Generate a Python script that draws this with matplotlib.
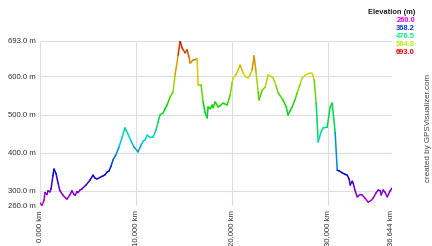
import numpy as np
import matplotlib
matplotlib.use('Agg')
import matplotlib.pyplot as plt
from matplotlib.collections import LineCollection
from matplotlib.colors import hsv_to_rgb

# ==================== data ====================
dist_km = [0.00, 0.21, 0.42, 0.52, 0.73, 0.83, 1.04, 1.15, 1.35, 1.46, 1.67, 1.88, 2.08, 2.40,
           2.71, 2.81, 3.13, 3.33, 3.54, 3.65, 3.85, 3.96, 4.17, 4.38, 4.79, 5.21, 5.52, 5.73,
           5.94, 6.25, 6.56, 6.77, 6.98, 7.19, 7.40, 7.60, 7.92, 8.23, 8.54, 8.85, 9.17, 9.48,
           9.79, 10.21, 10.52, 10.73, 10.94, 11.15, 11.46, 11.77, 12.08, 12.29, 12.50, 12.81,
           13.02, 13.23, 13.54, 13.85, 14.06, 14.38, 14.58, 14.79, 14.90, 15.10, 15.31, 15.52,
           15.63, 15.94, 16.35, 16.46, 16.77, 16.98, 17.19, 17.40, 17.50, 17.71, 17.92, 18.02,
           18.23, 18.54, 18.75, 19.06, 19.48, 19.79, 20.00, 20.10, 20.42, 20.83, 21.15, 21.46,
           21.67, 21.88, 22.08, 22.29, 22.50, 22.71, 22.81, 23.13, 23.44, 23.75, 24.06, 24.27,
           24.58, 24.79, 25.31, 25.63, 25.83, 26.04, 26.25, 26.56, 26.77, 27.08, 27.29, 27.60,
           27.81, 28.13, 28.33, 28.54, 28.75, 28.96, 29.27, 29.48, 29.90, 30.21, 30.42, 30.73,
           30.94, 31.15, 31.46, 31.77, 31.98, 32.19, 32.29, 32.50, 32.60, 32.81, 33.02, 33.33,
           33.54, 33.85, 34.17, 34.48, 34.69, 35.00, 35.21, 35.42, 35.52, 35.73, 35.94, 36.15,
           36.46, 36.644]
elev_m = [268, 262, 275, 295, 290, 300, 297, 305, 340, 357, 345, 320, 300, 288,
          280, 278, 290, 300, 290, 288, 298, 295, 302, 305, 315, 328, 341, 333,
          331, 335, 339, 342, 349, 352, 365, 381, 395, 415, 440, 465, 448, 430,
          415, 402, 420, 430, 433, 446, 440, 441, 460, 480, 499, 504,
          515, 525, 546, 559, 604, 656, 693, 675, 670, 662, 670, 650,
          635, 643, 646, 578, 578, 533, 505, 491, 520, 515, 525, 518,
          533, 520, 523, 530, 525, 551, 583, 596, 605, 630, 609, 598,
          596, 605, 617, 654, 610, 559, 538, 564, 572, 604, 600, 596,
          575, 557, 538, 520, 499, 510, 520, 540, 557, 580, 596, 603,
          606, 609, 608, 591, 530, 428, 455, 465, 467, 520, 530, 452,
          354, 352, 347, 343, 341, 330, 315, 325, 320, 300, 284, 290,
          289, 280, 270, 275, 281, 295, 302, 300, 289, 302, 295, 284,
          300, 307]

y_ticks = [260.0, 300.0, 400.0, 500.0, 600.0, 693.0]
x_ticks = [0.0, 10.0, 20.0, 30.0, 36.644]
legend_vals = [260.0, 368.2, 476.5, 584.8, 693.0]
E_MIN, E_MAX = 260.0, 693.0
# ==============================================

plt.rcParams['font.family'] = ['Liberation Sans', 'DejaVu Sans']


def elev_color(e, v=0.85):
    t = (e - E_MIN) / (E_MAX - E_MIN)
    t = min(max(t, 0), 1)
    return hsv_to_rgb((300.0 * (1 - t) / 360.0, 1.0, v))


fig = plt.figure(figsize=(4.32, 2.46), dpi=100)
ax = fig.add_axes([40/432, 1 - 206/246, 352/432, 165/246])

x = np.array(dist_km)
y = np.array(elev_m, dtype=float)
pts = np.column_stack([x, y]).reshape(-1, 1, 2)
segs = np.concatenate([pts[:-1], pts[1:]], axis=1)
cols = [elev_color((a + b) / 2) for a, b in zip(y[:-1], y[1:])]
ax.add_collection(LineCollection(segs, colors=cols, linewidths=1.1, capstyle='round'))

ax.set_xlim(0, 36.644)
ax.set_ylim(E_MIN, E_MAX)
for s in ax.spines.values():
    s.set_visible(False)
for v in y_ticks:
    ax.axhline(v, color='#dddddd', lw=0.8, zorder=0)
for v in x_ticks:
    ax.axvline(v, color='#dddddd', lw=0.8, zorder=0)

ax.set_yticks(y_ticks)
ax.set_yticklabels([f'{v:.1f} m' for v in y_ticks])
ax.set_xticks(x_ticks)
ax.set_xticklabels([f'{v:.3f} km' for v in x_ticks], rotation=90)
ax.tick_params(axis='both', length=0, labelsize=5.6, colors='#333333', pad=3)

fig.text(415/432, 1 - 12/246, 'Elevation (m)', ha='right', va='center',
         fontsize=5.4, fontweight='bold', color='#222222')
for i, v in enumerate(legend_vals):
    fig.text(415/432, 1 - (20 + 8*i)/246, f'{v:.1f}', ha='right', va='center',
             fontsize=5.4, fontweight='bold', color=elev_color(v, 0.95))

fig.text(428/432, 1 - 128/246, 'created by GPSVisualizer.com', rotation=90,
         ha='center', va='center', fontsize=5.8, color='#444444')

fig.savefig('out.png', dpi=100)
